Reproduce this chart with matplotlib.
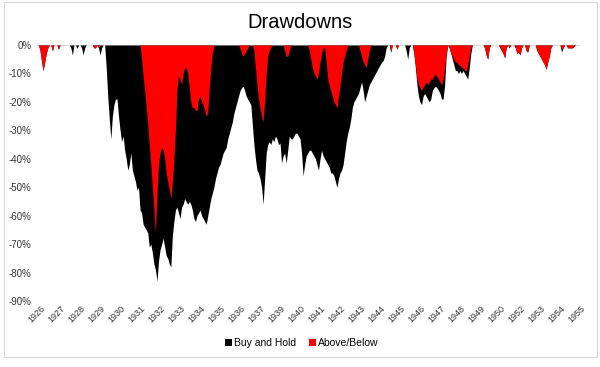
import numpy as np
import matplotlib
matplotlib.use("Agg")
import matplotlib.pyplot as plt
from matplotlib.patches import Patch, Rectangle


# -----------------------------
# Data: monthly drawdowns in %, Jan 1926 - Jun 1955 (one row per year)
# -----------------------------
buy_and_hold = [
    0, 0, -2, -6, -9, -6, -3, -1, 0, 0, -2, 0,                    # 1926
    0, 0, -1.5, 0, 0, 0, 0, 0, 0, 0, -1, -3.5,                    # 1927
    0, 0, -1.2, 0, 0, -1, -3.5, -1, 0, 0, 0, 0,                   # 1928
    0, -1, -1, 0, -1, -3.5, -1, 0, 0, -8, -18, -26,               # 1929
    -33, -25, -21, -19, -19, -25, -30, -34, -32, -37, -40, -44,   # 1930
    -42, -38, -44, -46, -48, -51, -50, -58, -59, -63, -64, -65,   # 1931
    -66, -71, -70, -73, -77, -79, -83, -76, -72, -70, -68, -71,   # 1932
    -74, -75, -77, -78, -67, -62, -58, -57, -59, -61, -57, -56,   # 1933
    -54, -55, -56, -55, -56, -58, -61, -62, -60, -59, -58, -60,   # 1934
    -61, -62, -63, -60, -57, -54, -52, -50, -47, -45, -43, -42,   # 1935
    -40, -38, -37, -36, -33, -31, -29, -27, -24, -22, -20, -18,   # 1936
    -16, -15, -14.5, -16, -18, -19, -20, -21, -28, -35, -40, -44, # 1937
    -45, -47, -50, -56, -47, -38, -35, -34, -35, -33, -34, -32,   # 1938
    -33, -35, -34.5, -41.5, -39, -38, -41.5, -37, -32, -33, -33, -32,  # 1939
    -31, -31, -32, -33, -38, -46, -42, -39, -38, -37, -37, -38,   # 1940
    -39, -40, -42, -44, -40, -37, -39, -40, -41, -42, -43, -45,   # 1941
    -45, -46, -48, -50, -47, -45, -44, -42, -38, -34, -31, -29,   # 1942
    -26, -22, -20, -19, -18, -17, -15, -13, -16, -20, -18, -16,   # 1943
    -14, -13, -12, -11, -10, -9, -8, -7, -6, -5.5, -4, -1,        # 1944
    0, 0, -2.5, 0, 0, 0, -1.5, 0, 0, 0, 0, 0,                     # 1945
    -2, -5, -1, 0, 0, -3, -8, -14, -18, -20, -21, -18,            # 1946
    -17, -18, -19, -20, -19, -16, -15, -14.5, -15, -16, -17, -19, # 1947
    -19, -14, -4, 0, -1, -3, -5, -7, -9, -9, -10, -9,             # 1948
    -10, -9, -10, -11, -12, -8, -3, 0, 0, 0, 0, 0,                # 1949
    0, 0, 0, -1, -3.5, -5, -1, 0, 0, 0, 0, 0,                     # 1950
    0, -1, -2, -3, -4.5, -1, 0, -1, 0, 0, 0, -1,                  # 1951
    -3, -2.5, -3.5, -1, 0, 0, -2, -2.5, 0, 0, 0, 0,               # 1952
    0, -2, -3, -4, -5, -6, -7, -8.5, -6, -4, -1, 0,               # 1953
    0, 0, 0, 0, 0, -2.5, -1, 0, 0, -1, -1, -1,                    # 1954
    -1, -0.5, 0, 0, 0, 0,                                         # 1955
]

above_below = [
    0, 0, -2, -6, -9, -6, -3, -1, 0, 0, -2, 0,                    # 1926
    0, 0, -1.5, 0, 0, 0, 0, 0, 0, 0, 0, 0,                        # 1927
    0, 0, 0, 0, 0, 0, 0, 0, 0, 0, 0, 0,                           # 1928
    0, -1, -1, 0, -1, 0, 0, 0, 0, 0, 0, 0,                        # 1929
    0, 0, 0, 0, 0, 0, 0, 0, 0, 0, 0, 0,                           # 1930
    0, 0, 0, 0, 0, 0, 0, 0, -5, -11, -16, -22,                    # 1931
    -28, -35, -42, -50, -58, -66, -52, -42, -38, -36, -37, -40,   # 1932
    -45, -48, -51, -54, -48, -40, -30, -15, -11, -12, -14, -10,   # 1933
    -8, -8, -10, -15, -20, -22, -22, -23, -23, -19, -18, -20,     # 1934
    -21, -23, -25, -24, -15, -8, -3, 0, 0, 0, 0, 0,               # 1935
    0, 0, 0, 0, 0, 0, 0, 0, 0, 0, 0, 0,                           # 1936
    -1, -3, -4, -3, -2, -1, 0, 0, 0, -2, -8, -14,                 # 1937
    -19, -22, -25, -27, -20, -10, -4, -2, -1, 0, 0, 0,            # 1938
    0, 0, 0, 0, 0, -2, -4, -4, -2, 0, 0, 0,                       # 1939
    0, 0, 0, 0, 0, 0, 0, 0, 0, -2, -5, -8,                        # 1940
    -10, -11, -12, -10, -6, -3, -1, -1, -6, -12, -14, -16,        # 1941
    -18, -20, -21, -22, -18, -14, -10, -6, -4, -2, 0, 0,          # 1942
    0, 0, 0, 0, 0, 0, -2, -4, -6, -7, -8, -5,                     # 1943
    -2, 0, 0, 0, 0, 0, 0, 0, 0, 0, 0, 0,                          # 1944
    0, 0, -2.5, 0, 0, 0, -1.5, 0, 0, 0, 0, 0,                     # 1945
    0, 0, 0, 0, 0, -3, -7, -12, -14, -15, -16, -15,               # 1946
    -14, -13, -14, -13, -12, -12, -11, -10, -11, -12, -13, -14,   # 1947
    -12, -8, -3, 0, -1, -3, -4, -5, -6, -6, -7, -7,               # 1948
    -8, -8, -9, -9, -7, -4, -1, 0, 0, 0, 0, 0,                    # 1949
    0, 0, 0, -1, -3.5, -5, -1, 0, 0, 0, 0, 0,                     # 1950
    0, -1, -2, -3, -4.5, -1, 0, -1, 0, 0, 0, -1,                  # 1951
    -3, -2.5, -3.5, -1, 0, 0, -2, -2.5, 0, 0, 0, 0,               # 1952
    0, -2, -3, -4, -5, -6, -7, -8.5, -6, -4, -1, 0,               # 1953
    0, 0, 0, 0, 0, -1.5, -1, 0, 0, -1, -1, -1,                    # 1954
    -1, -0.5, 0, 0, 0, 0,                                         # 1955
]

# Excel category axis: one label every 13 months
tick_labels = [
    "1926", "1927", "1928", "1929", "1930", "1931", "1932", "1933",
    "1934", "1935", "1936", "1937", "1939", "1940", "1941", "1942",
    "1943", "1944", "1945", "1946", "1947", "1948", "1949", "1950",
    "1952", "1953", "1954", "1955",
]
TICK_STEP = 13


# -----------------------------
# Plot
# -----------------------------
plt.rcParams["font.family"] = ["Liberation Sans", "DejaVu Sans"]

fig = plt.figure(figsize=(6.0, 3.67), dpi=100)
ax = fig.add_axes([37 / 600, 1 - 301 / 367, 543 / 600, 256 / 367])

x = np.arange(len(buy_and_hold))
bh = np.array(buy_and_hold, dtype=float)
ab = np.array(above_below, dtype=float)

ax.axhline(0, color="#d9d9d9", linewidth=0.8, zorder=1)
ax.fill_between(x, bh, 0, color="black", linewidth=0, zorder=2)
ax.fill_between(x, ab, 0, color="#ff0000", linewidth=0, zorder=3)

ax.set_xlim(0, len(x) - 1)
ax.set_ylim(-90, 0)

yticks = np.arange(-90, 1, 10)
ax.set_yticks(yticks)
ax.set_yticklabels([f"{v}%" for v in yticks])

ax.set_xticks(np.arange(0, len(x), TICK_STEP))
ax.set_xticklabels(tick_labels, rotation=45, ha="center", va="top")

ax.tick_params(axis="y", length=0, pad=4, labelsize=7, labelcolor="#333333")
ax.tick_params(axis="x", length=0, pad=2, labelsize=6.5, labelcolor="#333333")

for side in ["top", "right", "bottom", "left"]:
    ax.spines[side].set_visible(False)

fig.text(0.5, 1 - 22 / 367, "Drawdowns", ha="center", va="center",
         fontsize=14.5, color="black")

handles = [
    Patch(facecolor="black", label="Buy and Hold"),
    Patch(facecolor="#ff0000", label="Above/Below"),
]
fig.legend(
    handles=handles,
    loc="center",
    bbox_to_anchor=(0.503, 1 - 343 / 367),
    ncol=2,
    frameon=False,
    fontsize=7.5,
    handlelength=0.6,
    handleheight=0.6,
    handletextpad=0.2,
    columnspacing=1.3,
)

fig.patches.append(
    Rectangle(
        (4 / 600, 1 - 357 / 367),
        593 / 600,
        355 / 367,
        transform=fig.transFigure,
        fill=False,
        edgecolor="#d9d9d9",
        linewidth=0.8,
    )
)

fig.savefig("out.png", dpi=100)
